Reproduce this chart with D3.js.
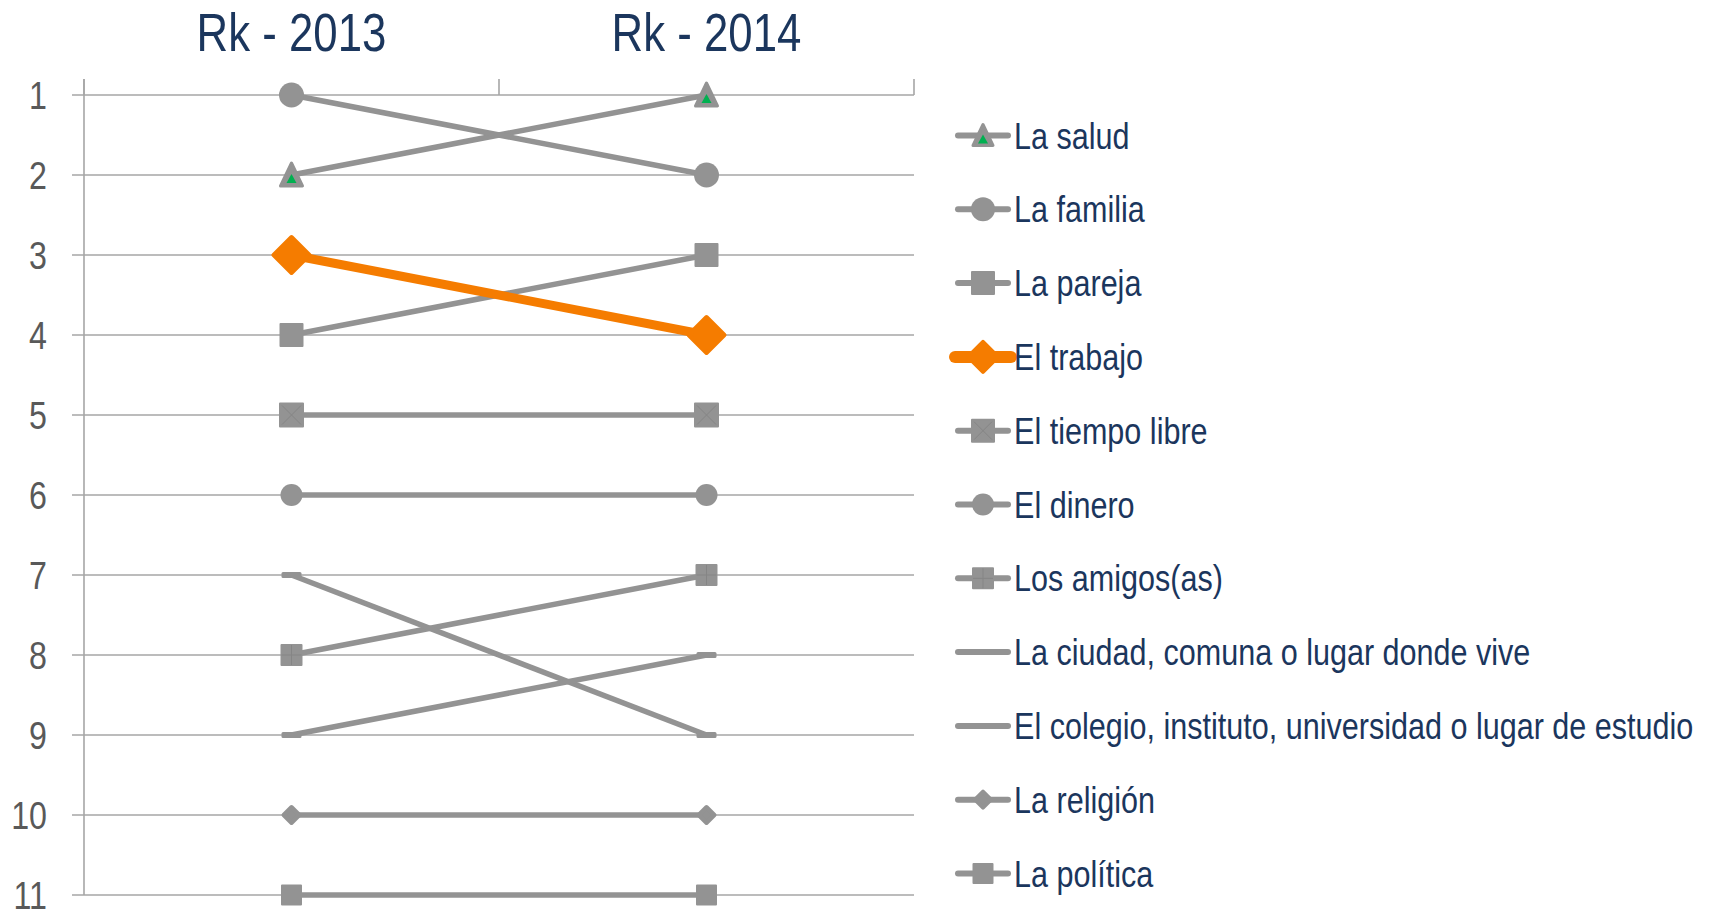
<!DOCTYPE html>
<html>
<head>
<meta charset="utf-8">
<script src="https://cdn.jsdelivr.net/npm/d3@7"></script>
<style>
  body { margin: 0; background: #fff; }
  text { font-family: "Liberation Sans", Arial, sans-serif; }
</style>
</head>
<body>
<div id="chart"></div>
<script>
// Data
const years = ["Rk - 2013", "Rk - 2014"];
const series = ["La salud", "La familia", "La pareja", "El trabajo", "El tiempo libre",
  "El dinero", "Los amigos(as)", "La ciudad, comuna o lugar donde vive",
  "El colegio, instituto, universidad o lugar de estudio", "La religión", "La política"];
const rank2013 = [2, 1, 4, 3, 5, 6, 8, 7, 9, 10, 11];
const rank2014 = [1, 2, 3, 4, 5, 6, 7, 9, 8, 10, 11];
const rankTicks = [1, 2, 3, 4, 5, 6, 7, 8, 9, 10, 11];

// Styles per series (marker kind, size)
const markerStyle = [
  { kind: "triangle", size: 26 },
  { kind: "circle", size: 25 },
  { kind: "square", size: 24 },
  { kind: "diamond", size: 40 },
  { kind: "squareX", size: 25 },
  { kind: "circle", size: 22 },
  { kind: "squarePlus", size: 22 },
  { kind: "dash", size: 20 },
  { kind: "dash", size: 20 },
  { kind: "diamond", size: 20 },
  { kind: "square", size: 21 }
];

const width = 1713, height = 916;
const gray = "#939393", orange = "#f57c00", navy = "#1b365d", gridColor = "#a6a6a6";
const narrow = 0.826;
const highlight = 3; // El trabajo

const x = d3.scalePoint().domain(years).range([84, 914]).padding(0.5);
const y = d3.scaleLinear().domain([1, 11]).range([95, 895]);

const svg = d3.select("#chart").append("svg")
    .attr("width", width)
    .attr("height", height);

// narrow text helper (source uses a condensed face)
function narrowText(parent, tx, ty, str, size, color, anchor) {
  parent.append("g")
      .attr("transform", `translate(${tx},${ty})`)
    .append("text")
      .attr("transform", `scale(${narrow},1)`)
      .attr("text-anchor", anchor)
      .attr("font-size", size)
      .attr("fill", color)
      .text(str);
}

///////////////////////////////////////////////////////////////////////////////
// Grid + axes
const [x0, x1] = x.range();
const step = x.step();

svg.append("g").selectAll("line")
  .data(rankTicks)
  .join("line")
    .attr("x1", x0 - 12)
    .attr("x2", x1)
    .attr("y1", d => y(d))
    .attr("y2", d => y(d))
    .attr("stroke", gridColor)
    .attr("stroke-width", 1.6);

// left axis line
svg.append("line")
    .attr("x1", x0).attr("x2", x0)
    .attr("y1", y(1) - 16).attr("y2", y(11))
    .attr("stroke", gridColor)
    .attr("stroke-width", 1.6);

// category boundary ticks on the top axis
svg.append("g").selectAll("line")
  .data(d3.range(years.length + 1))
  .join("line")
    .attr("x1", i => x0 + i * step)
    .attr("x2", i => x0 + i * step)
    .attr("y1", y(1) - 16)
    .attr("y2", y(1))
    .attr("stroke", gridColor)
    .attr("stroke-width", 1.6);

// rank labels
const yLabels = svg.append("g");
rankTicks.forEach(d => narrowText(yLabels, 47, y(d) + 14, d, 39, "#595959", "end"));

// year titles
const titles = svg.append("g");
years.forEach(d => narrowText(titles, x(d), 51, d, 53, navy, "middle"));

///////////////////////////////////////////////////////////////////////////////
// Markers
function drawMarker(g, kind, s, color) {
  const h = s / 2;
  if (kind === "circle") {
    g.append("circle").attr("r", h).attr("fill", color);
  } else if (kind === "square" || kind === "squareX" || kind === "squarePlus") {
    g.append("rect")
        .attr("x", -h + 1).attr("y", -h + 1)
        .attr("width", s - 2).attr("height", s - 2)
        .attr("fill", color)
        .attr("stroke", color).attr("stroke-width", 2).attr("stroke-linejoin", "round");
    if (kind === "squareX") {
      g.append("path")
          .attr("d", `M${-h + 3},${-h + 3}L${h - 3},${h - 3}M${h - 3},${-h + 3}L${-h + 3},${h - 3}`)
          .attr("stroke", "#858585").attr("stroke-width", 1);
    }
    if (kind === "squarePlus") {
      g.append("path")
          .attr("d", `M0,${-h + 1}V${h - 1}M${-h + 1},0H${h - 1}`)
          .attr("stroke", "#858585").attr("stroke-width", 1);
    }
  } else if (kind === "diamond") {
    g.append("path")
        .attr("d", `M0,${-h + 2}L${h - 2},0L0,${h - 2}L${-h + 2},0Z`)
        .attr("fill", color)
        .attr("stroke", color).attr("stroke-width", 4).attr("stroke-linejoin", "round");
  } else if (kind === "triangle") {
    g.append("path")
        .attr("d", `M0,${-h + 1}L${h - 2},${h - 2}L${-h + 2},${h - 2}Z`)
        .attr("fill", color)
        .attr("stroke", color).attr("stroke-width", 3).attr("stroke-linejoin", "round");
    g.append("path")
        .attr("d", `M0,-1L5,8L-5,8Z`)
        .attr("fill", "#00b050");
  } else if (kind === "dash") {
    g.append("rect")
        .attr("x", -h).attr("y", -3)
        .attr("width", s).attr("height", 6)
        .attr("rx", 1.5)
        .attr("fill", color);
  }
}

///////////////////////////////////////////////////////////////////////////////
// Series lines + markers
const line = d3.line().x(d => x(d.year)).y(d => y(d.rank));

series.forEach((name, i) => {
  const pts = [
    { year: years[0], rank: rank2013[i] },
    { year: years[1], rank: rank2014[i] }
  ];
  const color = i === highlight ? orange : gray;
  const g = svg.append("g").attr("class", "series");
  g.append("path")
      .datum(pts)
      .attr("fill", "none")
      .attr("stroke", color)
      .attr("stroke-width", i === highlight ? 9 : 5.5)
      .attr("d", line);
  pts.forEach(p => {
    const m = g.append("g").attr("transform", `translate(${x(p.year)},${y(p.rank)})`);
    drawMarker(m, markerStyle[i].kind, markerStyle[i].size, color);
  });
});

///////////////////////////////////////////////////////////////////////////////
// Legend
const legendY = d3.scalePoint().domain(series).range([135.5, 873.5]);
const legend = svg.append("g");

series.forEach((name, i) => {
  const ly = legendY(name);
  const color = i === highlight ? orange : gray;
  const hl = i === highlight;
  legend.append("line")
      .attr("x1", hl ? 955 : 958).attr("x2", hl ? 1011 : 1008)
      .attr("y1", ly).attr("y2", ly)
      .attr("stroke", color)
      .attr("stroke-width", hl ? 12 : 6)
      .attr("stroke-linecap", "round");
  const m = legend.append("g").attr("transform", `translate(983,${ly})`);
  const s = markerStyle[i];
  if (s.kind !== "dash") drawMarker(m, s.kind, hl ? 34 : Math.min(s.size, 24), color);
  narrowText(legend, 1014, ly + 13, name, 37, navy, "start");
});
</script>
</body>
</html>
